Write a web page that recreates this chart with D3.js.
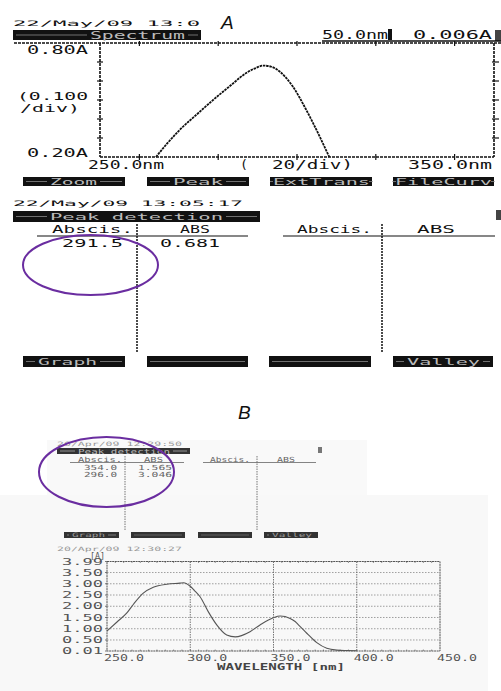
<!DOCTYPE html>
<html><head><meta charset="utf-8">
<script src="https://cdn.jsdelivr.net/npm/d3@7/dist/d3.min.js"></script>
<style>body{margin:0;background:#fff}svg{display:block}</style>
</head><body>
<script>
// ---------- DATA ----------
// Panel A spectrum (wavelength nm, absorbance A) - clipped at 0.20A by display
const specA_wl  = [264.2, 267.0, 270.3, 274.5, 278.7, 282.9, 287.1, 289.5, 291.5, 293.5, 295.6, 298.9, 302.3, 305.7, 308.2];
const specA_abs = [0.200, 0.270, 0.344, 0.423, 0.500, 0.572, 0.642, 0.668, 0.681, 0.675, 0.650, 0.572, 0.450, 0.310, 0.200];
const ticksA_x = [260, 280, 300, 320, 340];
const ticksA_y = [0.3, 0.4, 0.5, 0.6, 0.7];
const peakA_abscis = ["291.5"];
const peakA_abs = ["0.681"];

// Panel B spectrum
const specB_wl  = [250, 256, 261.8, 266, 271.8, 277.8, 285.9, 293.8, 296, 299.8, 302.5, 305.9, 310.8, 315.9, 321.9, 327, 335.9, 341.9, 349.9, 354, 360, 363, 365, 370, 376, 382, 388, 394, 400];
const specB_abs = [0.90, 1.30, 1.69, 2.10, 2.58, 2.84, 2.98, 3.03, 3.046, 2.90, 2.70, 2.42, 1.76, 1.17, 0.72, 0.64, 0.87, 1.17, 1.49, 1.565, 1.46, 1.32, 1.17, 0.80, 0.38, 0.13, 0.05, 0.03, 0.02];
const ticksB_x = [250, 300, 350, 400, 450];
const ticksB_y = [0.01, 0.50, 1.00, 1.50, 2.00, 2.50, 3.00, 3.50, 3.99];
const peakB_abscis = ["354.0", "296.0"];
const peakB_abs = ["1.565", "3.046"];

// ---------- HELPERS ----------
const MONO = "'DejaVu Sans Mono', 'Liberation Mono', monospace";
const svg = d3.select("body").append("svg").attr("width", 501).attr("height", 691);

function T(g, s, x1, x2, yc, size, fill, weight) {
  const t = g.append("text").attr("x", x1).attr("y", yc).attr("dy", "0.36em")
    .attr("font-family", MONO).attr("font-size", size).attr("fill", fill || "#111")
    .attr("font-weight", weight || "normal").text(s);
  if (x2 != null) t.attr("textLength", x2 - x1).attr("lengthAdjust", "spacingAndGlyphs");
  return t;
}
function bar(g, x1, x2, y1, y2, label, tx1, tx2, size, fill, tfill) {
  g.append("rect").attr("x", x1).attr("y", y1).attr("width", x2 - x1).attr("height", y2 - y1).attr("fill", fill || "#111");
  const ym = (y1 + y2) / 2;
  if (label) {
    g.append("line").attr("x1", x1 + 3).attr("x2", tx1 - 3).attr("y1", ym).attr("y2", ym).attr("stroke", tfill || "#999").attr("stroke-width", 0.7);
    g.append("line").attr("x1", tx2 + 3).attr("x2", x2 - 3).attr("y1", ym).attr("y2", ym).attr("stroke", tfill || "#999").attr("stroke-width", 0.7);
    T(g, label, tx1, tx2, ym, size, tfill || "#bbb");
  } else {
    g.append("line").attr("x1", x1 + 3).attr("x2", x2 - 3).attr("y1", ym).attr("y2", ym).attr("stroke", tfill || "#999").attr("stroke-width", 0.7);
  }
}

// ---------- PANEL A : SPECTRUM ----------
const gA = svg.append("g");
const xA = d3.scaleLinear().domain([250, 350]).range([100, 494]);
const yA = d3.scaleLinear().domain([0.2, 0.8]).range([157, 43]);

gA.append("text").attr("x", 221).attr("y", 29).attr("font-family", "'Liberation Sans', Arial, sans-serif")
  .attr("font-style", "italic").attr("font-size", 19).attr("fill", "#111").text("A");

T(gA, "22/May/09   13:0", 13, 200, 23, 7.5);
bar(gA, 13, 201, 30, 40, "Spectrum", 90, 185, 10);
T(gA, "50.0nm", 322, 388, 35, 12);
gA.append("rect").attr("x", 388).attr("y", 29).attr("width", 4).attr("height", 11).attr("fill", "#111");
T(gA, "0.006A", 413, 492, 35, 12);
gA.append("rect").attr("x", 495).attr("y", 30).attr("width", 6).attr("height", 11).attr("fill", "#444");
gA.append("line").attr("x1", 322).attr("x2", 501).attr("y1", 41).attr("y2", 41).attr("stroke", "#111").attr("stroke-width", 1.5);

const dash = "3,1";
// frame
gA.append("line").attr("x1", 14).attr("x2", 501).attr("y1", yA(0.8)).attr("y2", yA(0.8)).attr("stroke", "#111").attr("stroke-width", 1.3).attr("stroke-dasharray", dash);
gA.append("line").attr("x1", xA(250)).attr("x2", xA(250)).attr("y1", yA(0.8)).attr("y2", yA(0.2)).attr("stroke", "#111").attr("stroke-width", 1.6).attr("stroke-dasharray", dash);
gA.append("line").attr("x1", xA(350)).attr("x2", xA(350)).attr("y1", yA(0.8)).attr("y2", yA(0.2)).attr("stroke", "#111").attr("stroke-width", 1.6).attr("stroke-dasharray", dash);
gA.append("line").attr("x1", xA(250)).attr("x2", xA(350)).attr("y1", yA(0.2)).attr("y2", yA(0.2)).attr("stroke", "#111").attr("stroke-width", 1.4).attr("stroke-dasharray", dash);
// ticks
gA.selectAll(".tyl").data(ticksA_y).join("line").attr("x1", xA(250) - 3).attr("x2", xA(250) + 3)
  .attr("y1", d => yA(d)).attr("y2", d => yA(d)).attr("stroke", "#111").attr("stroke-width", 1.2);
gA.selectAll(".tyr").data(ticksA_y).join("line").attr("x1", xA(350) - 2).attr("x2", xA(350) + 5)
  .attr("y1", d => yA(d)).attr("y2", d => yA(d)).attr("stroke", "#111").attr("stroke-width", 1.2);
gA.selectAll(".txb").data(ticksA_x).join("line").attr("x1", d => xA(d)).attr("x2", d => xA(d))
  .attr("y1", yA(0.2) - 3).attr("y2", yA(0.2) + 3).attr("stroke", "#111").attr("stroke-width", 1.2);
gA.selectAll(".txt").data(ticksA_x).join("line").attr("x1", d => xA(d)).attr("x2", d => xA(d))
  .attr("y1", yA(0.8) - 2).attr("y2", yA(0.8) + 3).attr("stroke", "#111").attr("stroke-width", 1.2);
// curve
const lineA = d3.line().x(d => xA(d[0])).y(d => yA(d[1])).curve(d3.curveMonotoneX);
gA.append("path").attr("d", lineA(specA_wl.map((w, i) => [w, specA_abs[i]])))
  .attr("fill", "none").attr("stroke", "#111").attr("stroke-width", 1.8).attr("stroke-dasharray", "2.5,0.8");
// labels
T(gA, "0.80A", 27, 88, 50, 12);
T(gA, "(0.100", 17, 88, 96.5, 11);
T(gA, "/div)", 20, 80, 108, 11);
T(gA, "0.20A", 27, 88, 153, 12);
T(gA, "250.0nm", 88, 164, 165, 12);
T(gA, "(", 240, 248, 165, 12);
T(gA, "20/div)", 272, 353, 165, 12);
T(gA, "350.0nm", 408, 492, 165, 12);
// buttons
bar(gA, 23, 125, 177, 186, "Zoom", 50, 97, 9);
bar(gA, 147, 249, 177, 186, "Peak", 173, 223, 9);
bar(gA, 270, 372, 177, 186, "ExtTrans", 273, 370, 9);
bar(gA, 393, 494, 177, 186, "FileCurv", 395, 492, 9);

// ---------- PANEL A : PEAK TABLE ----------
const gP = svg.append("g");
T(gP, "22/May/09   13:05:17", 13, 243, 203, 7.5);
bar(gP, 13, 260, 211, 222, "Peak detection", 50, 223, 9.5);
gP.append("rect").attr("x", 496).attr("y", 210).attr("width", 5).attr("height", 10).attr("fill", "#444");
T(gP, "Abscis.", 52, 133, 229, 11);
T(gP, "ABS", 180, 210, 229, 11);
T(gP, "Abscis.", 297, 372, 229, 11);
T(gP, "ABS", 417, 455, 229, 11);
gP.append("line").attr("x1", 37).attr("x2", 248).attr("y1", 236).attr("y2", 236).attr("stroke", "#111").attr("stroke-width", 1.1);
gP.append("line").attr("x1", 283).attr("x2", 495).attr("y1", 236).attr("y2", 236).attr("stroke", "#111").attr("stroke-width", 1.1);
gP.append("line").attr("x1", 137).attr("x2", 137).attr("y1", 224).attr("y2", 352).attr("stroke", "#111").attr("stroke-width", 1.5).attr("stroke-dasharray", "2,1");
gP.append("line").attr("x1", 382).attr("x2", 382).attr("y1", 224).attr("y2", 352).attr("stroke", "#111").attr("stroke-width", 1.5).attr("stroke-dasharray", "2,1");
peakA_abscis.forEach((v, i) => {
  T(gP, v, 62, 123, 243 + i * 8, 11);
  T(gP, peakA_abs[i], 160, 220, 243 + i * 8, 11);
});
bar(gP, 23, 125, 356, 367, "Graph", 38, 97, 9.5);
bar(gP, 147, 248, 356, 367, null);
bar(gP, 269, 371, 356, 367, null);
bar(gP, 393, 493, 356, 367, "Valley", 407, 480, 9.5);
gP.append("ellipse").attr("cx", 90.5).attr("cy", 265).attr("rx", 67.5).attr("ry", 30)
  .attr("fill", "none").attr("stroke", "#6a2da0").attr("stroke-width", 2);

// ---------- PANEL B ----------
const gB = svg.append("g");
gB.append("rect").attr("x", 47).attr("y", 440).attr("width", 320).attr("height", 56).attr("fill", "#f9f9f9");
gB.append("rect").attr("x", 0).attr("y", 495).attr("width", 488).attr("height", 196).attr("fill", "#f8f8f8");
gB.append("text").attr("x", 238).attr("y", 419).attr("font-family", "'Liberation Sans', Arial, sans-serif")
  .attr("font-style", "italic").attr("font-size", 19).attr("fill", "#111").text("B");

const gray = "#666";
T(gB, "20/Apr/09  12:29:50", 57, 182, 444, 6, "#999");
bar(gB, 57, 190, 448, 454, "Peak detection", 78, 170, 7, "#333", "#bbb");
gB.append("rect").attr("x", 318).attr("y", 447).attr("width", 4).attr("height", 6).attr("fill", "#777");
T(gB, "Abscis.", 78, 122, 459, 7, gray);
T(gB, "ABS", 144, 163, 459, 7, gray);
T(gB, "Abscis.", 210, 250, 459, 7, gray);
T(gB, "ABS", 277, 295, 459, 7, gray);
gB.append("line").attr("x1", 70).attr("x2", 184).attr("y1", 462.5).attr("y2", 462.5).attr("stroke", gray).attr("stroke-width", 0.8);
gB.append("line").attr("x1", 203).attr("x2", 316).attr("y1", 462.5).attr("y2", 462.5).attr("stroke", gray).attr("stroke-width", 0.8);
gB.append("line").attr("x1", 125).attr("x2", 125).attr("y1", 456).attr("y2", 530).attr("stroke", gray).attr("stroke-width", 0.9).attr("stroke-dasharray", "1.5,1");
gB.append("line").attr("x1", 257).attr("x2", 257).attr("y1", 456).attr("y2", 530).attr("stroke", gray).attr("stroke-width", 0.9).attr("stroke-dasharray", "1.5,1");
peakB_abscis.forEach((v, i) => {
  T(gB, v, 84, 117, 467 + i * 7, 7, gray);
  T(gB, peakB_abs[i], 138, 172, 467 + i * 7, 7, gray);
});
bar(gB, 64, 119, 532, 538, "Graph", 72, 105, 6, "#333", "#999");
bar(gB, 131, 185, 532, 538, null, 0, 0, 6, "#333", "#777");
bar(gB, 198, 252, 532, 538, null, 0, 0, 6, "#333", "#777");
bar(gB, 264, 318, 532, 538, "Valley", 272, 312, 6, "#333", "#999");
gB.append("ellipse").attr("cx", 106.5).attr("cy", 472).attr("rx", 67.5).attr("ry", 35)
  .attr("fill", "none").attr("stroke", "#6a2da0").attr("stroke-width", 2);

// chart B
const xB = d3.scaleLinear().domain([250, 450]).range([107, 440]);
const yB = d3.scaleLinear().domain([0.01, 3.99]).range([651, 561.5]);
T(gB, "20/Apr/09  12:30:27", 57, 182, 549, 6, "#999");
T(gB, "[A]", 90, 105, 556, 8, "#555");
// grid
gB.selectAll(".gy").data(ticksB_y.slice(1, -1)).join("line")
  .attr("x1", xB(250)).attr("x2", xB(450)).attr("y1", d => yB(d)).attr("y2", d => yB(d))
  .attr("stroke", "#888").attr("stroke-width", 0.8).attr("stroke-dasharray", "1.5,1.5");
gB.selectAll(".gx").data(ticksB_x.slice(1, -1)).join("line")
  .attr("x1", d => xB(d)).attr("x2", d => xB(d)).attr("y1", yB(3.99)).attr("y2", yB(0.01))
  .attr("stroke", "#666").attr("stroke-width", 0.9).attr("stroke-dasharray", "1.5,1");
// minor ticks top/bottom
const minorB = d3.range(255, 450, 5);
gB.selectAll(".mt").data(minorB).join("line").attr("x1", d => xB(d)).attr("x2", d => xB(d))
  .attr("y1", yB(3.99)).attr("y2", yB(3.99) + 1.5).attr("stroke", "#777").attr("stroke-width", 0.8);
gB.selectAll(".mb").data(minorB).join("line").attr("x1", d => xB(d)).attr("x2", d => xB(d))
  .attr("y1", yB(0.01)).attr("y2", yB(0.01) - 1.5).attr("stroke", "#777").attr("stroke-width", 0.8);
// frame
gB.append("rect").attr("x", xB(250)).attr("y", yB(3.99)).attr("width", xB(450) - xB(250)).attr("height", yB(0.01) - yB(3.99))
  .attr("fill", "none").attr("stroke", "#555").attr("stroke-width", 1).attr("stroke-dasharray", "2,0.6");
// y ticks small
gB.selectAll(".yt").data(ticksB_y).join("line").attr("x1", xB(250) - 2).attr("x2", xB(250))
  .attr("y1", d => yB(d)).attr("y2", d => yB(d)).attr("stroke", "#555").attr("stroke-width", 0.8);
// curve
const lineB = d3.line().x(d => xB(d[0])).y(d => yB(d[1])).curve(d3.curveMonotoneX);
gB.append("path").attr("d", lineB(specB_wl.map((w, i) => [w, specB_abs[i]])))
  .attr("fill", "none").attr("stroke", "#555").attr("stroke-width", 1.1);
// labels
gB.selectAll(".yl").data(ticksB_y).join("text")
  .attr("x", 103).attr("y", d => yB(d)).attr("dy", "0.36em").attr("text-anchor", "end")
  .attr("font-family", MONO).attr("font-size", 8.5).attr("fill", "#555")
  .attr("textLength", 41).attr("lengthAdjust", "spacingAndGlyphs")
  .text(d => d.toFixed(2));
gB.selectAll(".xl").data(ticksB_x).join("text")
  .attr("x", d => xB(d) - 3).attr("y", 658).attr("dy", "0.36em")
  .attr("font-family", MONO).attr("font-size", 8.5).attr("fill", "#555")
  .attr("textLength", 40).attr("lengthAdjust", "spacingAndGlyphs")
  .text(d => d.toFixed(1));
T(gB, "WAVELENGTH  [nm]", 217, 345, 667, 8.5, "#444", "bold");
</script>
</body></html>
